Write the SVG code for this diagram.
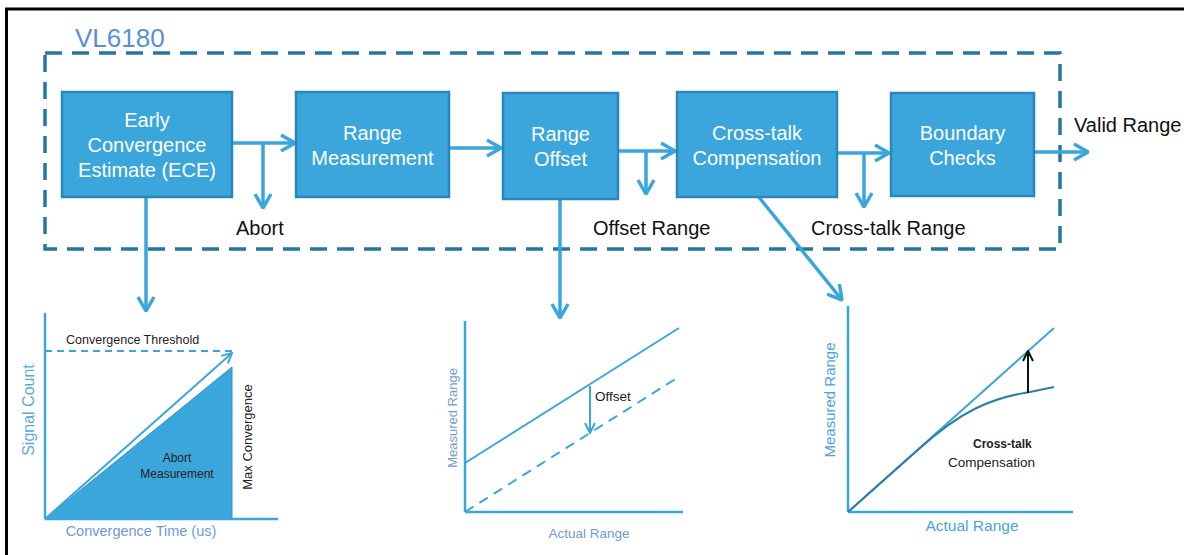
<svg xmlns="http://www.w3.org/2000/svg" width="1184" height="555" viewBox="0 0 1184 555">
<style>
text{font-family:"Liberation Sans",Arial,sans-serif}
.box{fill:#3aa6db;stroke:#2a87bb;stroke-width:2.5}
.bt{fill:#ffffff;font-size:20px;text-anchor:middle}
.lbl{fill:#111111;font-size:20px}
.flow{stroke:#3aa6db;stroke-width:3.5;fill:none}
.ax{stroke:#3aa6db;stroke-width:2.5;fill:none}
.axl{fill:#6f9ad8}
.ct{fill:#222222}
</style>
<defs>
<marker id="chev" viewBox="0 0 16 18" refX="15" refY="9" markerWidth="16" markerHeight="18" markerUnits="userSpaceOnUse" orient="auto">
<path d="M1,1 L15,9 L1,17" fill="none" stroke="#3aa6db" stroke-width="3.5"/>
</marker>
<marker id="chevs" viewBox="0 0 12 12" refX="11" refY="6" markerWidth="12" markerHeight="12" markerUnits="userSpaceOnUse" orient="auto">
<path d="M1,1 L11,6 L1,11" fill="none" stroke="#3aa6db" stroke-width="2"/>
</marker>
<marker id="chevk" viewBox="0 0 12 12" refX="11" refY="6" markerWidth="12" markerHeight="12" markerUnits="userSpaceOnUse" orient="auto">
<path d="M1,1 L11,6 L1,11" fill="none" stroke="#111111" stroke-width="2"/>
</marker>
</defs>
<rect width="1184" height="555" fill="#ffffff"/>
<line x1="5" y1="9" x2="1184" y2="9" stroke="#000" stroke-width="3"/>
<line x1="6.5" y1="8" x2="6.5" y2="555" stroke="#000" stroke-width="3"/>

<g id="container">
<rect x="45" y="53" width="1015" height="196" fill="none" stroke="#24789f" stroke-width="3.5" stroke-dasharray="17 10"/>
<text x="75" y="47" font-size="26" fill="#5b8fd0">VL6180</text>
</g>

<g id="connectors">
<line class="flow" x1="232" y1="143" x2="295" y2="143" marker-end="url(#chev)"/>
<line class="flow" x1="263" y1="143" x2="263" y2="208" marker-end="url(#chev)"/>
<line class="flow" x1="449" y1="148" x2="501" y2="148" marker-end="url(#chev)"/>
<line class="flow" x1="618" y1="151" x2="675" y2="151" marker-end="url(#chev)"/>
<line class="flow" x1="646" y1="151" x2="646" y2="194" marker-end="url(#chev)"/>
<line class="flow" x1="837" y1="153" x2="889" y2="153" marker-end="url(#chev)"/>
<line class="flow" x1="864" y1="153" x2="864" y2="207" marker-end="url(#chev)"/>
<line class="flow" x1="1034" y1="152" x2="1088" y2="152" marker-end="url(#chev)"/>
<line class="flow" x1="146" y1="197" x2="146" y2="311" marker-end="url(#chev)"/>
<line class="flow" x1="560" y1="199" x2="560" y2="318" marker-end="url(#chev)"/>
<line class="flow" x1="758" y1="196" x2="842" y2="300" marker-end="url(#chev)"/>
</g>

<g id="ece">
<rect class="box" x="62" y="92" width="170" height="105"/>
<text class="bt" x="147" y="127">Early</text>
<text class="bt" x="147" y="152">Convergence</text>
<text class="bt" x="147" y="177">Estimate (ECE)</text>
</g>
<g id="range-measurement">
<rect class="box" x="296" y="92" width="153" height="105"/>
<text class="bt" x="372.5" y="140">Range</text>
<text class="bt" x="372.5" y="165">Measurement</text>
</g>
<g id="range-offset">
<rect class="box" x="503" y="93" width="115" height="106"/>
<text class="bt" x="560.5" y="141">Range</text>
<text class="bt" x="560.5" y="166">Offset</text>
</g>
<g id="crosstalk">
<rect class="box" x="677" y="92" width="160" height="105"/>
<text class="bt" x="757" y="140">Cross-talk</text>
<text class="bt" x="757" y="165">Compensation</text>
</g>
<g id="boundary">
<rect class="box" x="891" y="93" width="143" height="103"/>
<text class="bt" x="962.5" y="140">Boundary</text>
<text class="bt" x="962.5" y="165">Checks</text>
</g>

<g id="outputs">
<text class="lbl" x="236" y="235">Abort</text>
<text class="lbl" x="593" y="235">Offset Range</text>
<text class="lbl" x="811" y="235">Cross-talk Range</text>
<text class="lbl" x="1074" y="132" font-size="19">Valid Range</text>
</g>

<g id="chart-ece">
<polygon points="45,519 232,367 232,519" fill="#3aa6db" stroke="#2f95c8" stroke-width="1"/>
<line class="ax" x1="45" y1="313" x2="45" y2="519"/>
<line class="ax" x1="45" y1="519" x2="278" y2="519"/>
<line x1="45" y1="351" x2="232" y2="351" stroke="#3aa6db" stroke-width="2" stroke-dasharray="7 5"/>
<line x1="45" y1="519" x2="232" y2="353" stroke="#3aa6db" stroke-width="2" marker-end="url(#chevs)"/>
<text x="66" y="344" font-size="12.5" class="ct">Convergence Threshold</text>
<text x="177" y="462" font-size="12" text-anchor="middle" class="ct">Abort</text>
<text x="177" y="478" font-size="12" text-anchor="middle" class="ct">Measurement</text>
<text transform="translate(252,437) rotate(-90)" font-size="13" text-anchor="middle" class="ct">Max Convergence</text>
<text transform="translate(34,410) rotate(-90)" font-size="16" text-anchor="middle" fill="#5aaade">Signal Count</text>
<text x="141" y="536" font-size="14.5" text-anchor="middle" class="axl">Convergence Time (us)</text>
</g>

<g id="chart-offset">
<line class="ax" x1="465" y1="321" x2="465" y2="512"/>
<line class="ax" x1="465" y1="512" x2="683" y2="512"/>
<line x1="465" y1="463" x2="679" y2="328" stroke="#3aa6db" stroke-width="2"/>
<line x1="465" y1="512" x2="677" y2="378" stroke="#3aa6db" stroke-width="2" stroke-dasharray="10 7"/>
<line x1="590" y1="386" x2="590" y2="433" stroke="#3aa6db" stroke-width="2" marker-end="url(#chevs)"/>
<text x="595" y="401" font-size="13.5" class="ct">Offset</text>
<text transform="translate(457,418) rotate(-90)" font-size="13" text-anchor="middle" class="axl">Measured Range</text>
<text x="589" y="538" font-size="13.5" text-anchor="middle" class="axl">Actual Range</text>
</g>

<g id="chart-crosstalk">
<line class="ax" x1="848" y1="306" x2="848" y2="512"/>
<line class="ax" x1="848" y1="512" x2="1073" y2="512"/>
<line x1="848" y1="512" x2="1054" y2="328" stroke="#3aa6db" stroke-width="2"/>
<path d="M848,512 L920,448 C960,412 990,398 1030,392 L1054,387" fill="none" stroke="#2e7ea8" stroke-width="2"/>
<line x1="1028" y1="393" x2="1028" y2="351" stroke="#111" stroke-width="2" marker-end="url(#chevk)"/>
<text x="973" y="448" font-size="12" font-weight="bold" class="ct">Cross-talk</text>
<text x="948" y="467" font-size="13.5" class="ct">Compensation</text>
<text transform="translate(835,400) rotate(-90)" font-size="15" text-anchor="middle" fill="#4aa3df">Measured Range</text>
<text x="972" y="531" font-size="15.5" text-anchor="middle" fill="#4aa3df">Actual Range</text>
</g>
</svg>
